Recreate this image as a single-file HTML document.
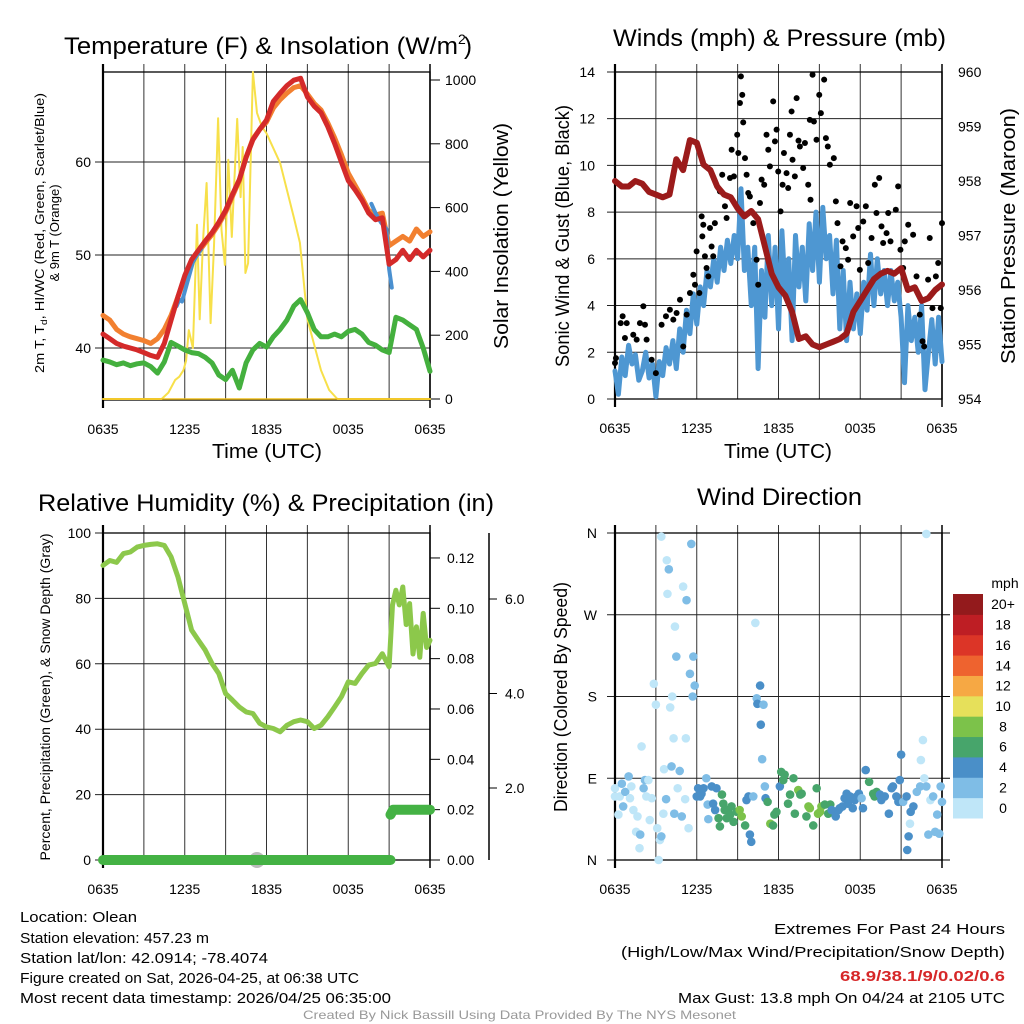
<!DOCTYPE html>
<html><head><meta charset="utf-8"><style>
html,body{margin:0;padding:0;background:#fff;}
svg{display:block;font-family:"Liberation Sans",sans-serif;}
</style></head><body>
<svg id="chart" width="1024" height="1024" viewBox="0 0 1024 1024" xmlns="http://www.w3.org/2000/svg">
<rect x="0" y="0" width="1024" height="1024" fill="#fff"/>
<text x="64" y="54" font-size="24" textLength="394" lengthAdjust="spacingAndGlyphs">Temperature (F) &amp; Insolation (W/m</text>
<text x="458" y="44" font-size="14">2</text>
<text x="464" y="54" font-size="24">)</text>
<text x="613" y="46" font-size="24" textLength="333" lengthAdjust="spacingAndGlyphs">Winds (mph) &amp; Pressure (mb)</text>
<text x="38" y="511" font-size="24" textLength="456" lengthAdjust="spacingAndGlyphs">Relative Humidity (%) &amp; Precipitation (in)</text>
<text x="697" y="505" font-size="24" textLength="165" lengthAdjust="spacingAndGlyphs">Wind Direction</text>
<text x="212" y="458" font-size="20" textLength="110" lengthAdjust="spacingAndGlyphs">Time (UTC)</text>
<text x="724" y="458" font-size="20" textLength="108" lengthAdjust="spacingAndGlyphs">Time (UTC)</text>
<text transform="translate(44,233) rotate(-90)" text-anchor="middle" font-size="13" textLength="280" lengthAdjust="spacingAndGlyphs">2m T, T<tspan font-size="9" dy="3">d</tspan><tspan dy="-3">, HI/WC (Red, Green, Scarlet/Blue)</tspan></text>
<text transform="translate(59,233) rotate(-90)" text-anchor="middle" font-size="13">&amp; 9m T (Orange)</text>
<text transform="translate(508,236) rotate(-90)" text-anchor="middle" font-size="20" textLength="226" lengthAdjust="spacingAndGlyphs">Solar Insolation (Yellow)</text>
<text transform="translate(569,236) rotate(-90)" text-anchor="middle" font-size="19" textLength="262" lengthAdjust="spacingAndGlyphs">Sonic Wind &amp; Gust (Blue, Black)</text>
<text transform="translate(1015,236) rotate(-90)" text-anchor="middle" font-size="20" textLength="256" lengthAdjust="spacingAndGlyphs">Station Pressure (Maroon)</text>
<text transform="translate(50,697) rotate(-90)" text-anchor="middle" font-size="14" textLength="327" lengthAdjust="spacingAndGlyphs">Percent, Precipitation (Green), &amp; Snow Depth (Gray)</text>
<text transform="translate(567,697) rotate(-90)" text-anchor="middle" font-size="18" textLength="230" lengthAdjust="spacingAndGlyphs">Direction (Colored By Speed)</text>
<g font-size="15">
<text x="20" y="922" textLength="117" lengthAdjust="spacingAndGlyphs">Location: Olean</text>
<text x="20" y="943" textLength="189" lengthAdjust="spacingAndGlyphs">Station elevation: 457.23 m</text>
<text x="20" y="963" textLength="248" lengthAdjust="spacingAndGlyphs">Station lat/lon: 42.0914; -78.4074</text>
<text x="20" y="983" textLength="339" lengthAdjust="spacingAndGlyphs">Figure created on Sat, 2026-04-25, at 06:38 UTC</text>
<text x="20" y="1003" textLength="371" lengthAdjust="spacingAndGlyphs">Most recent data timestamp: 2026/04/25 06:35:00</text>
</g>
<g font-size="15">
<text x="774" y="934" textLength="231" lengthAdjust="spacingAndGlyphs">Extremes For Past 24 Hours</text>
<text x="621" y="957" textLength="384" lengthAdjust="spacingAndGlyphs">(High/Low/Max Wind/Precipitation/Snow Depth)</text>
<text x="840" y="981" fill="#d62728" font-weight="bold" textLength="165" lengthAdjust="spacingAndGlyphs">68.9/38.1/9/0.02/0.6</text>
<text x="678" y="1003" textLength="327" lengthAdjust="spacingAndGlyphs">Max Gust: 13.8 mph On 04/24 at 2105 UTC</text>
</g>
<text x="303" y="1019" font-size="12" fill="#999" textLength="433" lengthAdjust="spacingAndGlyphs">Created By Nick Bassill Using Data Provided By The NYS Mesonet</text>
</svg>
<script>
// ---------- DATA ----------
const xTickLabels = ['0635','1235','1835','0035','0635'];
const xTickHours = [0,6,12,18,24];
const halfHours = [0,0.5,1,1.5,2,2.5,3,3.5,4,4.5,5,5.5,6,6.5,7,7.5,8,8.5,9,9.5,10,10.5,11,11.5,12,12.5,13,13.5,14,14.5,15,15.5,16,16.5,17,17.5,18,18.5,19,19.5,20,20.5,21,21.5,22,22.5,23,23.5,24];
const tempRed = [41.5,41,40.5,40.2,40,39.8,39.5,39.2,39.0,40.5,43,45.5,47.8,49.5,50.5,51.5,52.4,53.5,54.8,56.5,58.1,60.5,62.4,63.5,64.5,66.5,67.4,68.2,68.8,69,67,66,65.3,63.8,62,60,58,57,55.9,54.5,53.8,54,49,49.5,50.5,49.5,50.5,49.8,50.5];
const tempOrange = [43.5,43,42,41.5,41.2,41,40.8,40.5,41,42,43.5,45.5,47.5,49.2,50.3,51.3,52.2,53.3,54.6,56.3,58,60.5,62.5,63.5,64.3,65.8,66.7,67.4,68,68.2,67.3,66.3,65.6,64.2,62.6,60.8,58.8,57.5,56.2,54.8,54.3,54.5,51,51.5,52,51.5,52.8,52,52.5];
const dewGreen = [38.7,38.5,38.2,38.4,38.1,38.3,38.4,38.0,37.3,38.5,40.6,40.2,39.8,39.5,39.4,39.0,38.4,37.1,36.6,37.6,35.7,38.4,39.8,40.5,40.1,41.2,42,43,44.5,45.2,43.8,42,41.2,41.2,41.5,41.2,41.8,42,41.5,40.6,40.3,39.8,39.5,43.3,43,42.5,42,40,37.5];
const wcBlueHours = [5.4,5.6,5.8,6.6,6.9,7.2,19.7,20.0,20.4,20.8,21.0,21.2];
const wcBlue = [44.5,45.2,45.0,49.2,50.0,50.6,55.5,54.5,53.5,52.8,48.5,46.5];
const solarHours = [0,4.3,4.8,5.3,5.6,5.9,6.1,6.3,6.6,6.9,7.1,7.35,7.6,7.9,8.15,8.45,8.7,8.95,9.2,9.45,9.85,10.1,10.25,10.45,10.65,11.0,11.3,11.67,12,13,14,14.45,14.7,15,16,16.6,17.2,24];
const solarValues = [0,0,20,60,70,90,120,216,160,546,250,500,677,238,480,880,530,420,750,508,878,633,790,395,426,1025,897,853,833,740,570,490,382,250,90,28,0,0];
const windHours = Array.from({length:97},(_,i)=>i*0.25);
const windSpeed = [1.2,0.2,1.8,1.0, 2.3,1.5,1.9,0.8, 1.2,2.0,0.9,1.5, 0.1,1.6,1.0,2.2, 1.5,2.5,1.3,3.0, 2.0,3.8,2.8,4.5, 3.2,4.8,4.0,5.5, 4.8,6.0,5.0,6.5, 5.5,6.8,5.8,7.0, 6.0,9.0,5.5,6.5, 4.0,6.5,1.3,5.5, 3.5,7.0,4.0,6.5, 3.0,7.2,4.5,6.0, 2.5,7.0,4.8,6.5, 4.2,7.5,5.5,8.0, 5.0,8.2,6.0,7.0, 4.5,6.8,3.0,5.5, 2.5,5.0,3.0,4.5, 2.8,5.0,3.8,6.2, 4.0,6.0,4.5,5.5, 4.0,5.5,4.2,5.0, 3.5,0.7,4.0,2.5, 3.5,2.0,4.0,0.4, 2.0,3.4,1.5,3.5, 1.6];
const gustHours = [0.0,0.07,0.42,0.56,0.86,0.73,1.34,1.59,1.83,2.08,2.2,2.32,2.69,3.0,3.42,3.74,4.03,4.28,4.52,4.77,5.01,5.26,5.5,5.75,5.87,5.99,6.19,6.36,6.41,6.48,6.6,6.72,6.85,6.97,7.09,7.21,7.33,7.58,7.7,7.87,8.07,8.19,8.44,8.56,8.73,8.97,9.05,9.17,9.24,9.34,9.41,9.54,9.66,9.78,9.9,10.15,10.39,10.51,10.64,10.76,10.95,11.12,11.25,11.37,11.61,11.74,11.86,11.98,12.15,12.3,12.4,12.59,12.71,12.84,12.96,13.03,13.2,13.33,13.47,13.57,13.81,13.94,14.18,14.3,14.35,14.5,14.6,14.79,14.99,15.11,15.35,15.48,15.62,15.77,16.06,16.21,16.33,16.55,16.7,16.94,17.11,17.26,17.48,17.73,17.85,17.97,18.22,18.41,18.58,18.83,19.07,19.19,19.39,19.56,19.68,19.93,20.05,20.22,20.61,20.78,20.95,21.15,21.27,21.52,21.88,22.13,22.37,22.57,22.69,22.98,23.1,23.3,23.55,23.72,23.91,24.0];
const gustSpeed = [1.54,1.75,3.25,3.54,3.25,2.61,2.75,2.54,3.25,3.97,3.18,2.54,1.68,1.11,3.18,3.54,3.82,3.4,3.68,4.25,2.25,3.61,4.54,5.32,4.89,6.32,4.54,7.82,6.96,7.46,6.11,5.61,5.25,7.32,6.53,6.11,7.53,9.03,8.89,9.6,8.25,7.75,9.46,10.67,9.53,11.31,10.53,12.67,13.81,13.02,11.84,10.31,9.6,8.82,8.67,7.53,5.96,4.89,8.39,9.39,9.17,11.31,10.67,9.96,12.74,11.03,11.53,9.74,8.03,9.17,10.53,9.67,9.03,11.31,12.31,10.24,9.53,12.88,11.06,10.81,9.89,10.96,9.17,11.95,8.53,13.88,11.88,11.1,13.02,12.24,13.67,11.17,10.81,10.03,10.31,8.46,7.53,5.68,6.75,6.46,5.96,8.39,6.96,8.25,7.32,5.53,7.6,8.25,5.82,6.89,9.17,7.96,9.46,7.39,6.68,7.1,7.96,6.75,8.1,9.1,6.39,5.61,6.75,7.46,7.03,5.25,3.61,2.47,2.25,5.11,6.89,3.89,5.25,5.82,3.89,7.53];
const pressure = [958.0,957.9,957.9,958.0,957.95,957.8,957.75,957.7,957.75,958.4,958.2,958.75,958.7,958.3,958.2,957.9,957.75,957.7,957.5,957.35,957.45,957.3,956.8,956.3,956.05,955.9,955.6,955.1,955.15,955.0,954.95,955.0,955.05,955.1,955.2,955.6,955.8,956.0,956.2,956.3,956.35,956.3,956.4,956.0,956.05,955.8,955.85,956.0,956.1];
const rhHours = [0,0.5,1,1.5,2,2.5,3,3.5,4,4.5,5,5.5,6,6.5,7,7.5,8,8.5,9,9.5,10,10.5,11,11.5,12,12.5,13,13.5,14,14.5,15,15.5,16,16.5,17,17.5,18,18.5,19,19.5,20,20.5,21,21.25,21.5,21.75,22,22.25,22.5,22.75,23,23.25,23.5,23.75,24];
const rhValues = [90.1,91.6,91,93.7,94.2,95.7,96.2,96.5,96.7,96.2,92.7,86.6,78.4,70.3,67.2,64.2,60.1,57,50.9,48.9,46.8,45.3,44.8,41.8,40.7,40.2,39.2,41.2,42.3,42.8,42.3,40.2,41.2,43.8,46.8,49.9,54.5,54,57,59.6,60.1,63.1,59.1,78,82.5,78,83.5,72,78.4,63,71.3,62,75.4,65,67.2];
const precipHours = [0,21.1,21.1,21.3,24];
const precipValues = [0,0,0.018,0.02,0.02];
const snowHours = [11.3];
const snowValues = [0];
const dirHours = [0,0,0.25,0.35,0.5,0.6,0.75,1.0,1.1,1.2,1.35,1.55,1.65,1.85,1.8,1.95,2.1,2.2,2.3,2.45,2.55,2.7,2.85,3.0,3.1,3.2,3.3,3.4,3.4,3.55,3.6,3.75,3.8,3.85,3.95,4.05,4.15,4.2,4.3,4.35,4.4,4.5,4.6,4.75,4.9,5.0,5.15,5.2,5.25,5.4,5.5,5.6,5.7,5.75,5.85,6.0,6.1,6.25,6.35,6.5,6.7,6.8,6.85,7.1,7.2,7.35,7.45,7.6,7.7,7.85,7.95,8.05,8.2,8.3,8.45,8.55,8.7,8.95,9.15,9.3,9.55,9.65,9.8,9.9,10.0,10.15,10.3,10.4,10.45,10.65,10.7,10.8,10.9,11.0,11.05,11.2,11.4,11.6,11.7,11.85,12.1,12.2,12.35,12.45,12.7,12.85,13.1,13.2,13.45,13.6,13.7,14.05,14.2,14.3,14.55,14.8,14.9,15.05,15.15,15.4,15.65,15.8,15.9,16.2,16.4,16.5,16.7,16.85,17.0,17.1,17.25,17.45,17.6,17.75,17.9,18.1,18.2,18.4,18.65,18.95,19.05,19.2,19.45,19.55,19.8,20.1,20.3,20.4,20.65,20.8,20.9,21.0,21.15,21.4,21.45,21.55,21.65,21.7,21.9,22.15,22.4,22.45,22.6,22.7,22.85,22.85,23.0,23.15,23.35,23.5,23.65,23.8,23.9,24.0];
const dirDegrees = [79,70,50,70,84,59,75,92,68,81,55,31,48,28,13,125,79,88,70,88,44,68,194,171,35,0,22,26,356,51,100,67,330,293,320,168,103,180,134,51,257,224,79,98,48,301,67,134,286,35,205,348,180,224,192,70,79,70,73,79,90,61,45,81,62,55,79,46,37,72,62,55,46,55,50,59,42,53,55,48,38,66,70,28,20,70,261,178,172,192,149,111,171,81,68,64,40,38,50,53,81,97,88,94,62,72,90,51,77,72,73,48,59,57,38,79,51,53,59,61,51,61,55,48,55,57,59,68,73,62,70,57,66,70,73,68,57,99,86,73,70,75,72,66,70,51,79,81,70,64,88,116,64,70,11,26,40,53,59,75,81,110,132,90,359,81,28,66,70,31,50,29,81,64];
const dirSpeed = [1,1,1,1,3,3,3,3,1,1,1,1,1,3,1,1,3,3,1,1,1,1,1,1,1,1,1,3,1,1,1,3,1,1,3,1,3,1,1,3,1,3,1,3,3,1,1,1,3,1,3,3,3,3,3,5,5,5,5,5,3,3,3,5,5,5,5,7,7,7,7,7,7,7,7,7,7,7,9,9,7,5,5,5,5,3,1,3,5,5,5,3,3,3,5,7,9,7,7,7,5,7,7,7,7,7,7,7,9,7,7,7,9,9,7,7,9,9,9,7,7,7,5,5,5,5,5,5,5,5,5,5,5,5,5,3,5,5,7,7,7,7,5,5,5,5,5,5,5,5,5,5,3,5,5,5,1,5,5,3,3,1,1,1,1,3,3,1,3,3,3,3,3,3];
const speedBins = ['0','2','4','6','8','10','12','14','16','18','20+'];
const speedColors = ['#bfe6f8','#7fbde6','#4a8fc8','#47a56b','#7cc24a','#e6e05a','#f6a844','#ee632f','#dc3527','#be1e24','#931a1c'];
const tempTicks = [40,50,60];
const solarTicks = [0,200,400,600,800,1000];
const windTicks = [0,2,4,6,8,10,12,14];
const pressTicks = [954,955,956,957,958,959,960];
const rhTicks = [0,20,40,60,80,100];
const precipTicks = ['0.00','0.02','0.04','0.06','0.08','0.10','0.12'];
const snowTicks = ['2.0','4.0','6.0'];
const dirTicks = ['N','E','S','W','N'];

// ---------- HELPERS ----------
const NS='http://www.w3.org/2000/svg';
const svg=document.getElementById('chart');
function mk(tag,attrs,parent){const e=document.createElementNS(NS,tag);for(const k in attrs)e.setAttribute(k,attrs[k]);(parent||svg).appendChild(e);return e;}
const P1={x0:103,x1:430,y0:72,y1:400};
const P2={x0:615,x1:942,y0:72,y1:399};
const P3={x0:103,x1:430,y0:533,y1:860};
const P4={x0:615,x1:942,y0:533,y1:860};
const xs=(p,h)=>p.x0+h/24*(p.x1-p.x0);
const yTemp=v=>348-(v-40)*9.3;
const ySolar=v=>399-v*0.319;
const yWind=v=>399-v*23.36;
const yPress=v=>399-(v-954)*54.5;
const yRH=v=>860-v*3.27;
const yPrecip=v=>860-v*2517;
const ySnow=v=>882.5-v*47.25;
const yDir=v=>860-v*0.9083;
function pathD(p,hs,vs,fy){return hs.map((h,i)=>((i===0||h===hs[i-1])?'M':'L')+xs(p,h).toFixed(1)+','+fy(vs[i]).toFixed(1)).join(' ');}

function grid(p,name,hLines){
  const g=mk('g',{});
  
  
  for(let k=1;k<8;k++){const x=xs(p,k*3);
    const l=mk('line',{x1:x,x2:x,y1:p.y0-8,y2:p.y1,stroke:'#333','stroke-width':1},g);
    
    }
  hLines.forEach(y=>{const l=mk('line',{x1:p.x0-8,x2:p.x1,y1:y,y2:y,stroke:'#222','stroke-width':1},g);
    
    });
  const b=mk('rect',{x:p.x0,y:p.y0,width:p.x1-p.x0,height:p.y1-p.y0,fill:'none',stroke:'#000','stroke-width':1.3},g);
  
  
  const lb=mk('line',{x1:p.x0,x2:p.x0,y1:p.y0-8,y2:p.y1+8,stroke:'#000','stroke-width':2.2},g);
  
  
  const rb=mk('line',{x1:p.x1,x2:p.x1,y1:p.y0-8,y2:p.y1+8,stroke:'#000','stroke-width':1.5},g);
  
  
  xTickHours.forEach((h,i)=>{const t=mk('text',{x:xs(p,h),y:p.y1+34,'text-anchor':'middle','font-size':14},g);
    t.textContent=xTickLabels[i];
    
    });
}
function label(x,y,txt,anchor,name,size){const t=mk('text',{x:x,y:y,'text-anchor':anchor,'font-size':size||14});t.textContent=txt;
  
  return t;}
function line(p,hs,vs,fy,color,w,name){const e=mk('path',{d:pathD(p,hs,vs,fy),fill:'none',stroke:color,'stroke-width':w,'stroke-linejoin':'round','stroke-linecap':'round'});
  
  return e;}

// ---------- PANEL 1 ----------
grid(P1,'temp',tempTicks.map(yTemp));
tempTicks.forEach(v=>label(P1.x0-12,yTemp(v)+5,String(v),'end','temp-y-tick-label'));
solarTicks.forEach(v=>{label(P1.x1+15,ySolar(v)+5,String(v),'start','solar-y-tick-label');
  const l=mk('line',{x1:P1.x1,x2:P1.x1+10,y1:ySolar(v),y2:ySolar(v),stroke:'#000'});
  
  });
line(P1,solarHours,solarValues,ySolar,'#f7e04a',2,'insolation-line');
line(P1,halfHours,tempOrange,yTemp,'#f28030',5,'temp-9m-line');
line(P1,wcBlueHours.slice(0,6),wcBlue.slice(0,6),yTemp,'#4a90d0',4,'wind-chill-line-day');
line(P1,wcBlueHours.slice(6),wcBlue.slice(6),yTemp,'#4a90d0',4,'wind-chill-line-evening');
line(P1,halfHours,tempRed,yTemp,'#d42a2a',5,'temp-2m-line');
line(P1,halfHours,dewGreen,yTemp,'#44b03e',5,'dewpoint-line');
const yel=mk('line',{x1:P1.x0,x2:P1.x1,y1:ySolar(0),y2:ySolar(0),stroke:'#f0c020','stroke-width':1.5});



// ---------- PANEL 2 ----------
grid(P2,'wind',windTicks.map(yWind));
windTicks.forEach(v=>label(P2.x0-20,yWind(v)+5,String(v),'end','wind-y-tick-label'));
pressTicks.forEach(v=>label(P2.x1+16,yPress(v)+5,String(v),'start','pressure-y-tick-label'));
line(P2,windHours,windSpeed,yWind,'#4e97d2',5,'sonic-wind-line');
const gg=mk('g',{});


gustHours.forEach((h,i)=>{const c=mk('circle',{cx:xs(P2,h),cy:yWind(gustSpeed[i]),r:3,fill:'#000'},gg);
  
  });
line(P2,halfHours,pressure,yPress,'#9b1b1b',6,'pressure-line');

// ---------- PANEL 3 ----------
grid(P3,'humidity',rhTicks.map(yRH));
rhTicks.forEach(v=>label(P3.x0-12,yRH(v)+5,String(v),'end','humidity-y-tick-label'));
precipTicks.forEach(v=>{const y=yPrecip(parseFloat(v));label(P3.x1+17,y+5,v,'start','precip-y-tick-label');
  const l=mk('line',{x1:P3.x1,x2:P3.x1+10,y1:y,y2:y,stroke:'#000'});
  
  });
const sa=mk('line',{x1:489,x2:489,y1:533,y2:860,stroke:'#000','stroke-width':1.5});


snowTicks.forEach(v=>{const y=ySnow(parseFloat(v));label(505,y+5,v,'start','snow-y-tick-label');
  const l=mk('line',{x1:489,x2:497,y1:y,y2:y,stroke:'#000'});
  
  });
snowHours.forEach((h,i)=>{const c=mk('circle',{cx:xs(P3,h),cy:yRH(snowValues[i]),r:8,fill:'#bbb'});
  
  });
line(P3,precipHours,precipValues,yPrecip,'#44b244',10,'precip-line');
line(P3,rhHours,rhValues,yRH,'#8cc84b',5,'humidity-line');

// ---------- PANEL 4 ----------
grid(P4,'direction',[0,90,180,270,360].map(yDir));
[0,90,180,270,360].forEach(d=>{const l=mk('line',{x1:P4.x1,x2:P4.x1+8,y1:yDir(d),y2:yDir(d),stroke:'#000'});
  
  });
dirTicks.forEach((t,i)=>label(P4.x0-18,yDir(i*90)+5,t,'end','direction-y-tick-label'));
const dg=mk('g',{});


dirHours.forEach((h,i)=>{const s=(dirSpeed[i]===undefined)?3:dirSpeed[i];
  const bin=Math.min(10,Math.floor(s/2));
  const c=mk('circle',{cx:xs(P4,h),cy:yDir(dirDegrees[i]),r:4.3,fill:speedColors[bin]},dg);
  
  });
const cb=mk('g',{});


const cbTop=594,cbH=224/11;
speedBins.forEach((b,i)=>{const y=cbTop+(10-i)*cbH;
  const r=mk('rect',{x:953,y:y,width:30,height:cbH+0.5,fill:speedColors[i]},cb);
  
  
  const t=mk('text',{x:1003,y:y+cbH/2+5,'text-anchor':'middle','font-size':14},cb);
  t.textContent=b;
  
  });
label(1005,588,'mph','middle','colorbar-title');
</script>
</body></html>
